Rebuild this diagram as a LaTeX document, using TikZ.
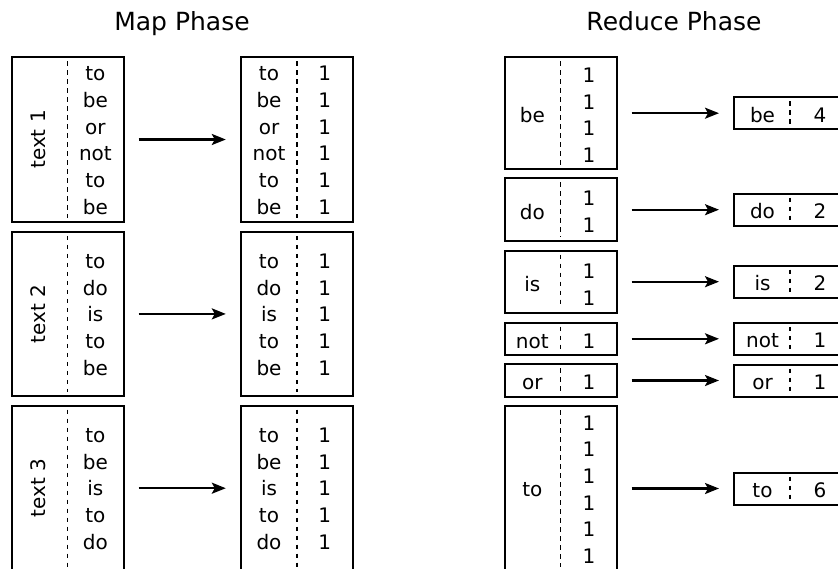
\documentclass[tikz,border=0pt]{standalone}
\usepackage{fontspec}
\setmainfont{DejaVu Sans}
\usetikzlibrary{arrows.meta}
\begin{document}
\begin{tikzpicture}[x=1pt,y=-1pt,
  box/.style={draw, line width=2pt, rectangle, inner sep=0pt, minimum width=112pt},
  divider/.style={line width=1.4pt, dash pattern=on 4.5pt off 4.5pt, shorten <=5pt, shorten >=5pt},
  cell/.style={anchor=base, inner sep=0pt, font=\fontsize{20}{24}\selectfont},
  label/.style={cell, anchor=center, rotate=90},
  title/.style={anchor=base, inner sep=0pt, font=\fontsize{25}{30}\selectfont},
  flow/.style={line width=2.2pt, -{Stealth[length=14pt,width=11pt,inset=3pt]}, shorten <=14pt, shorten >=14pt}]
\clip (0,0) rectangle (838,568);

% headings
\node[title] (tmap) at (182,30.7) {Map Phase};
\node[title] (tred) at (674,30.7) {Reduce Phase};

% ---------------- map phase ----------------
\node[box, minimum height=165pt] (m1) at (67.5,139.5) {};
\node[box, minimum height=164pt] (m2) at (67.5,313.9) {};
\node[box, minimum height=165pt] (m3) at (67.5,488.2) {};
\node[box, minimum height=165pt] (o1) at (296.8,139.5) {};
\node[box, minimum height=164pt] (o2) at (296.8,313.9) {};
\node[box, minimum height=165pt] (o3) at (296.8,488.2) {};
\foreach \b in {m1,m2,m3,o1,o2,o3} \draw[divider] (\b.north) -- (\b.south);

\node[label] (m1t) at (38.3,139.5) {text 1};
\node[label] (m2t) at (38.3,313.9) {text 2};
\node[label] (m3t) at (38.3,488.2) {text 3};

\foreach \w [count=\i from 0] in {to,be,or,not,to,be} {
  \node[cell] (m1w\i) at (95.4,80.6+\i*26.7) {\w};
  \node[cell] (o1k\i) at (269,80.6+\i*26.7) {\w};
  \node[cell] (o1v\i) at (324.7,80.6+\i*26.7) {1};
}
\foreach \w [count=\i from 0] in {to,do,is,to,be} {
  \node[cell] (m2w\i) at (95.4,268.3+\i*26.7) {\w};
  \node[cell] (o2k\i) at (269,268.3+\i*26.7) {\w};
  \node[cell] (o2v\i) at (324.7,268.3+\i*26.7) {1};
}
\foreach \w [count=\i from 0] in {to,be,is,to,do} {
  \node[cell] (m3w\i) at (95.4,442.3+\i*26.7) {\w};
  \node[cell] (o3k\i) at (269,442.3+\i*26.7) {\w};
  \node[cell] (o3v\i) at (324.7,442.3+\i*26.7) {1};
}
\draw[flow] (m1) -- (o1);
\draw[flow] (m2) -- (o2);
\draw[flow] (m3) -- (o3);

% ---------------- reduce phase ----------------
\node[box, minimum height=111.7pt] (rbe) at (560.5,113.2) {};
\node[box, minimum height=62.7pt] (rdo) at (560.5,209.7) {};
\node[box, minimum height=62pt] (ris) at (560.5,281.7) {};
\node[box, minimum height=32.3pt] (rnot) at (560.5,338.8) {};
\node[box, minimum height=32.3pt] (ror) at (560.5,380.5) {};
\node[box, minimum height=165pt] (rto) at (560.5,488.5) {};

\node[box, minimum height=32pt] (sbe) at (790,113.2) {};
\node[box, minimum height=32pt] (sdo) at (790,209.7) {};
\node[box, minimum height=32pt] (sis) at (790,281.7) {};
\node[box, minimum height=32pt] (snot) at (790,338.8) {};
\node[box, minimum height=32pt] (sor) at (790,380.5) {};
\node[box, minimum height=32pt] (sto) at (790,488.5) {};
\foreach \b in {rbe,rdo,ris,rnot,ror,rto,sbe,sdo,sis,snot,sor,sto}
  \draw[divider] (\b.north) -- (\b.south);

% grouped keys with their lists of ones
\node[cell] (rbek) at (532.3,122.3) {be};
\foreach \i in {0,...,3} \node[cell] (rbev\i) at (589,82.3+\i*26.7) {1};
\node[cell] (rdok) at (532.3,219.1) {do};
\foreach \i in {0,1} \node[cell] (rdov\i) at (589,205.6+\i*27) {1};
\node[cell] (risk) at (532.3,291.8) {is};
\foreach \i in {0,1} \node[cell] (risv\i) at (589,278.3+\i*27) {1};
\node[cell] (rnotk) at (532.3,348) {not};
\node[cell] (rnotv) at (589,348) {1};
\node[cell] (rork) at (532.3,389.7) {or};
\node[cell] (rorv) at (589,389.7) {1};
\node[cell] (rtok) at (532.3,496.6) {to};
\foreach \i in {0,...,5} \node[cell] (rtov\i) at (589,430+\i*26.7) {1};

% summed counts
\node[cell] (sbek) at (762.5,122.3) {be};   \node[cell] (sbev) at (820,122.3) {4};
\node[cell] (sdok) at (762.5,218.8) {do};   \node[cell] (sdov) at (820,218.8) {2};
\node[cell] (sisk) at (762.5,290.8) {is};   \node[cell] (sisv) at (820,290.8) {2};
\node[cell] (snotk) at (762.5,347.9) {not}; \node[cell] (snotv) at (820,347.9) {1};
\node[cell] (sork) at (762.5,389.6) {or};   \node[cell] (sorv) at (820,389.6) {1};
\node[cell] (stok) at (762.5,497.6) {to};   \node[cell] (stov) at (820,497.6) {6};

\foreach \k in {be,do,is,not,or,to} \draw[flow] (r\k) -- (s\k);
\end{tikzpicture}
\end{document}
